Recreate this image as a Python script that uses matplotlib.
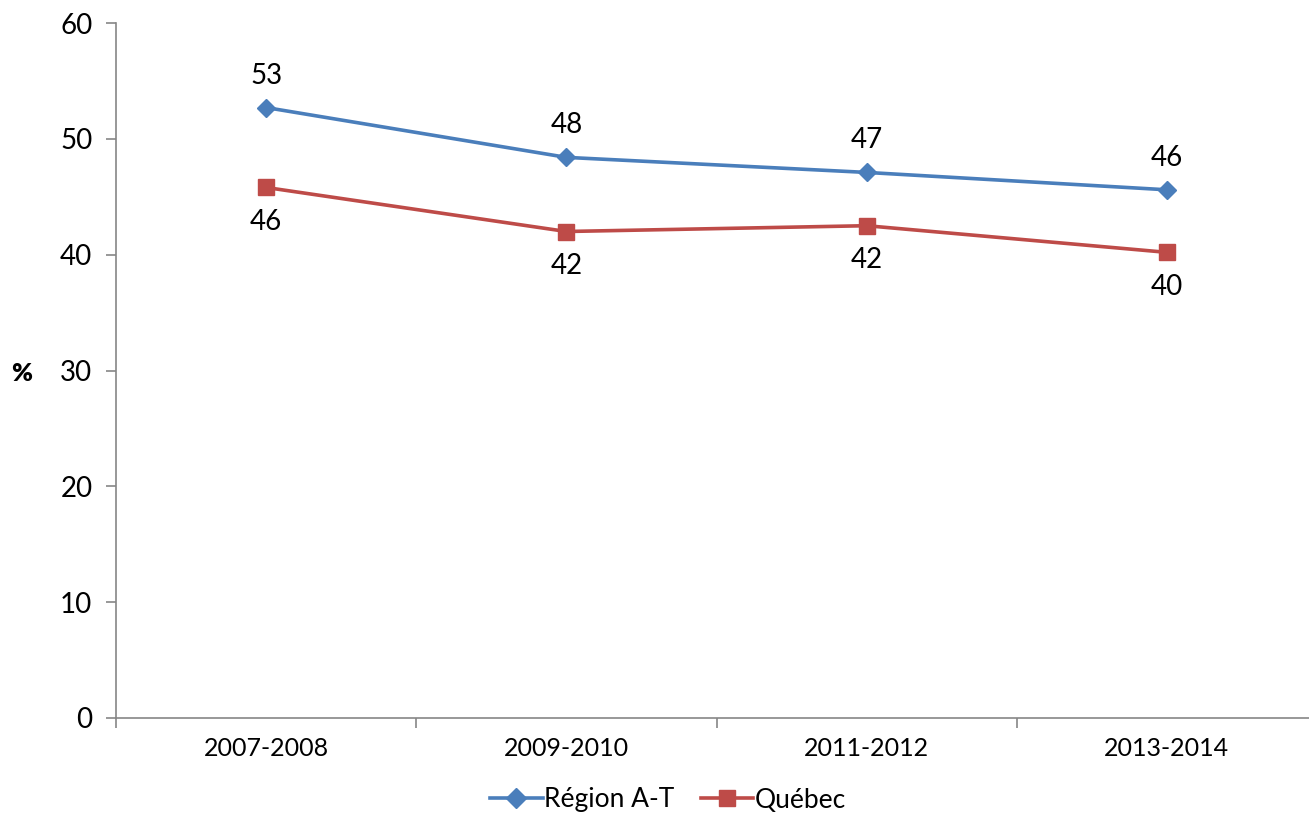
import matplotlib
matplotlib.use('Agg')
import matplotlib.pyplot as plt

plt.rcParams['font.family'] = ['Lato', 'DejaVu Sans']

# données
periodes = ['2007-2008', '2009-2010', '2011-2012', '2013-2014']
region_at = [52.7, 48.4, 47.1, 45.6]
quebec = [45.8, 42.0, 42.5, 40.2]

bleu = '#4A7EBB'
rouge = '#BE4B48'
gris = '#868686'

fig = plt.figure(figsize=(13.09, 8.16), dpi=100)
W, H = 1309, 816
ax = fig.add_axes([116 / W, 1 - 718 / H, (1317 - 116) / W, (718 - 23) / H])

x = list(range(len(periodes)))
ax.plot(x, region_at, color=bleu, lw=2.6, marker='D', ms=9.5, label='Région A-T')
ax.plot(x, quebec, color=rouge, lw=2.6, marker='s', ms=11, label='Québec')

for i, v in enumerate(region_at):
    ax.annotate('{:.0f}'.format(v), (i, v), xytext=(0, 23), textcoords='offset points',
                ha='center', va='center', fontsize=20)
for i, v in enumerate(quebec):
    ax.annotate('{:.0f}'.format(v), (i, v), xytext=(0, -25), textcoords='offset points',
                ha='center', va='center', fontsize=20)

ax.set_xlim(-0.5, len(periodes) - 0.5)
ax.set_ylim(0, 60)
ax.set_yticks(range(0, 61, 10))
ax.set_xticks([i - 0.5 for i in range(len(periodes) + 1)])
ax.set_xticklabels([])
ax.set_xticks(x, minor=True)
ax.set_xticklabels(periodes, minor=True, fontsize=18)
ax.tick_params(axis='x', which='minor', length=0, pad=14)
ax.tick_params(axis='x', which='major', length=7, direction='out', color=gris, width=1.2)
ax.tick_params(axis='y', length=7, direction='out', color=gris, width=1.2, labelsize=20, pad=10)

for s in ['top', 'right']:
    ax.spines[s].set_visible(False)
for s in ['left', 'bottom']:
    ax.spines[s].set_color(gris)
    ax.spines[s].set_linewidth(1.2)

fig.text(22 / W, 1 - 374 / H, '%', fontsize=18, fontweight='heavy', ha='center', va='center')

fig.legend(loc='center', bbox_to_anchor=(668 / W, 1 - 800 / H), ncol=2, frameon=False,
           fontsize=19, handlelength=2.0, handletextpad=0.05, columnspacing=1.0,
           markerscale=1.1)

fig.savefig('out.png', dpi=100)
